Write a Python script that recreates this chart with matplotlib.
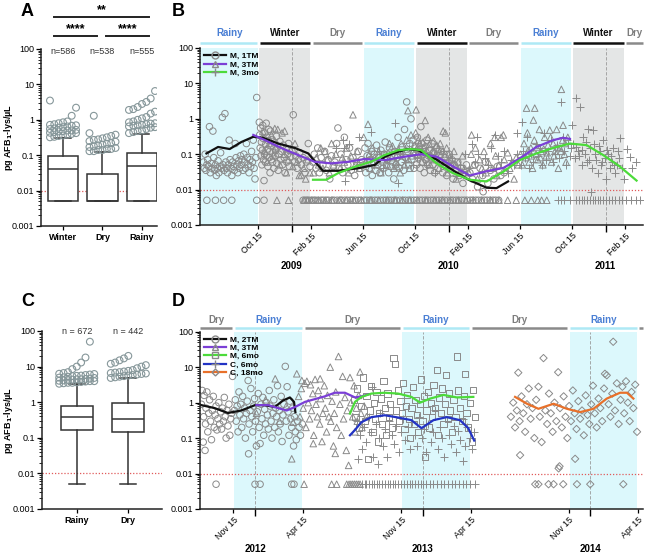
import numpy as np
import matplotlib
matplotlib.use("Agg")
import matplotlib.pyplot as plt
from matplotlib.lines import Line2D
from matplotlib.ticker import FixedLocator, LogLocator, NullFormatter
import matplotlib.transforms as mtransforms

plt.rcParams['font.family'] = ['Liberation Sans', 'DejaVu Sans']

GRAY = '#8a8a8a'
TEAL_GRAY = '#86979a'
CYAN = '#dcf8fc'
WINTER_GRAY = '#e4e6e6'
LOD = 0.005

# ---------------- panel A / C box data ----------------
a_groups = ['Winter', 'Dry', 'Rainy']
a_n = ['n=586', 'n=538', 'n=555']
a_q1 = [0.005, 0.005, 0.005]
a_med = [0.04, 0.005, 0.05]
a_q3 = [0.095, 0.03, 0.115]
a_whi = [0.31, 0.12, 0.40]
a_out_winter = [0.32, 0.33, 0.35, 0.36, 0.38, 0.40, 0.42, 0.43, 0.45, 0.47, 0.48, 0.50, 0.50,
                0.52, 0.55, 0.57, 0.60, 0.62, 0.65, 0.68, 0.70, 0.72, 0.75, 0.80, 0.85, 0.90,
                1.3, 2.2, 3.5]
a_out_dry = [0.13, 0.13, 0.14, 0.14, 0.15, 0.15, 0.16, 0.17, 0.18, 0.19, 0.20, 0.21, 0.22,
             0.24, 0.25, 0.27, 0.28, 0.30, 0.32, 0.35, 0.38, 0.42, 1.3]
a_out_rainy = [0.42, 0.45, 0.48, 0.50, 0.55, 0.60, 0.62, 0.65, 0.68, 0.70, 0.72, 0.75, 0.78,
               0.80, 0.85, 0.90, 1.0, 1.1, 1.2, 1.5, 1.7, 1.9, 2.0, 2.3, 2.8, 3.2, 4.0, 6.5]

c_groups = ['Rainy', 'Dry']
c_n = ['n = 672', 'n = 442']
c_whlo = [0.005, 0.005]
c_q1 = [0.17, 0.15]
c_med = [0.38, 0.34]
c_q3 = [0.80, 0.93]
c_whi = [3.2, 4.7]
c_out_rainy = [3.3, 3.4, 3.5, 3.6, 3.7, 3.8, 3.9, 4.0, 4.1, 4.2, 4.3, 4.4, 4.5, 4.6, 4.8, 5.0,
               5.2, 5.4, 5.6, 5.8, 6.0, 6.3, 6.6, 7.0, 3.5, 3.9, 4.4, 4.9, 5.5, 6.2, 8.5,
               10, 13, 18, 50]
c_out_dry = [4.8, 5.0, 5.2, 5.4, 5.6, 5.8, 6.0, 6.2, 6.4, 6.6, 6.8, 7.0, 7.3, 7.6, 8.0,
             9.0, 10, 11, 12, 13, 15, 17, 20]

# ---------------- panel B (days since 2008-10-15) ----------------
B_REF = '2008-10-15'
b_xlim = (-136, 895)
b_edges = ['2008-10-15', '2009-02-15', '2009-06-15', '2009-10-15', '2010-02-15',
           '2010-06-15', '2010-10-15', '2011-02-15']
b_seasons = ['Rainy', 'Winter', 'Dry', 'Rainy', 'Winter', 'Dry', 'Rainy', 'Winter', 'Dry']
b_ticks = ['2008-10-15', '2009-02-15', '2009-06-15', '2009-10-15', '2010-02-15',
           '2010-06-15', '2010-10-15', '2011-02-15']
b_tick_labels = ['Oct 15', 'Feb 15', 'Jun 15', 'Oct 15', 'Feb 15', 'Jun 15', 'Oct 15', 'Feb 15']
b_years = ['2009-01-01', '2010-01-01', '2011-01-01']
b_year_labels = ['2009', '2010', '2011']

b_circles = [(-128, 0.06), (-126, 0.04), (-124, 0.1), (-122, 0.035), (-120, 0.05), (-118, 0.07),
             (-116, 0.045), (-114, 0.6), (-112, 0.03), (-110, 0.055), (-108, 0.04), (-106, 0.45),
             (-104, 0.08), (-102, 0.035), (-100, 0.05), (-98, 0.025), (-96, 0.04), (-94, 0.065),
             (-92, 0.03), (-90, 0.045), (-88, 0.11), (-86, 0.04), (-84, 1.1), (-82, 0.05),
             (-80, 0.035), (-78, 1.4), (-76, 0.06), (-74, 0.04), (-72, 0.03), (-70, 0.05),
             (-68, 0.25), (-66, 0.07), (-64, 0.04), (-62, 0.025), (-60, 0.06), (-58, 0.045),
             (-56, 0.035), (-54, 0.2), (-52, 0.08), (-50, 0.05), (-48, 0.03), (-46, 0.065),
             (-44, 0.04), (-42, 0.09), (-40, 0.05), (-38, 0.07), (-36, 0.035), (-34, 0.1),
             (-32, 0.06), (-30, 0.04), (-28, 0.2), (-26, 0.08), (-24, 0.05), (-22, 0.03),
             (-20, 0.07), (-18, 0.045), (-16, 0.12), (-14, 0.06), (-12, 0.25), (-10, 0.04),
             (-8, 0.02), (-6, 0.08), (-4, 4.0),
             (2, 0.8), (3, 0.35), (4, 0.15), (5, 0.55), (6, 0.09), (7, 0.22), (8, 0.05), (9, 0.13),
             (10, 0.65), (11, 0.28), (12, 0.07), (13, 0.018), (14, 0.1), (15, 0.4), (16, 0.06),
             (17, 0.19), (18, 0.75), (19, 0.09), (20, 0.3), (21, 0.14), (22, 0.045), (23, 0.24),
             (24, 0.5), (25, 0.08), (26, 0.12), (27, 0.03), (28, 0.45), (29, 0.17), (30, 0.07),
             (32, 0.26), (33, 0.06), (34, 0.11), (36, 0.04), (38, 0.21), (39, 0.09), (40, 0.13),
             (42, 0.32), (43, 0.055), (45, 0.16), (46, 0.035), (48, 0.1), (50, 0.23), (52, 0.07),
             (54, 0.12), (56, 0.05), (58, 0.18), (60, 0.08), (62, 0.03), (64, 0.14), (66, 0.06),
             (68, 0.1), (70, 0.2), (72, 0.045), (75, 0.085), (78, 0.12), (81, 1.3), (84, 0.06),
             (87, 0.09), (90, 0.04), (93, 0.07), (96, 0.11), (100, 0.05), (104, 0.08), (108, 0.03),
             (112, 0.06), (116, 0.2), (120, 0.045),
             (126, 0.06), (130, 0.1), (134, 0.04), (138, 0.15), (142, 0.03), (146, 0.08),
             (150, 0.05), (154, 0.12), (158, 0.035), (162, 0.07), (166, 0.02), (170, 0.09),
             (174, 0.045), (178, 0.06), (182, 0.2), (185, 0.55), (188, 0.04), (192, 0.1),
             (196, 0.03), (200, 0.3), (204, 0.07), (208, 0.05), (212, 0.15), (216, 0.035),
             (220, 0.08), (224, 0.025), (228, 0.06), (232, 0.12), (236, 0.04), (240, 0.07),
             (245, 0.05), (248, 0.15), (250, 0.03), (253, 0.09), (255, 0.2), (258, 0.04),
             (260, 0.07), (263, 0.12), (265, 0.025), (268, 0.06), (270, 0.1), (273, 0.035),
             (275, 0.18), (278, 0.05), (280, 0.08), (283, 0.03), (285, 0.13), (288, 0.06),
             (290, 0.04), (293, 0.1), (295, 0.22), (298, 0.05), (300, 0.07), (303, 0.03),
             (305, 0.15), (308, 0.045), (310, 0.09), (313, 0.06), (315, 0.02), (318, 0.12),
             (320, 0.05), (323, 0.08), (325, 0.3), (328, 0.04), (330, 0.1), (333, 0.06),
             (335, 0.16), (338, 0.035), (340, 0.5), (342, 0.08), (345, 3.0), (347, 0.12),
             (350, 0.05), (352, 0.2), (355, 1.0), (357, 0.07), (360, 0.25), (362, 0.04),
             (366, 0.15), (368, 0.05), (370, 0.3), (372, 0.08), (374, 0.12), (376, 0.04),
             (378, 0.6), (380, 0.2), (382, 0.06), (384, 0.1), (386, 0.03), (388, 0.16),
             (390, 0.07), (392, 0.25), (394, 0.05), (396, 0.09), (398, 0.13), (400, 0.035),
             (402, 0.08), (404, 0.2), (406, 0.05), (408, 0.11), (410, 0.03), (412, 0.07),
             (415, 0.15), (418, 0.04), (420, 0.09), (423, 0.06), (426, 0.12), (429, 0.03),
             (432, 0.05), (435, 0.08), (438, 0.025), (441, 0.06), (444, 0.1), (447, 0.04),
             (450, 0.07), (453, 0.02), (456, 0.05), (460, 0.035), (464, 0.06), (468, 0.025),
             (472, 0.04), (476, 0.015), (480, 0.03), (484, 0.05),
             (492, 0.03), (498, 0.02), (504, 0.05), (510, 0.012), (516, 0.04), (522, 0.025),
             (523, 0.0087), (528, 0.06), (534, 0.015), (540, 0.035), (548, 0.02), (556, 0.045),
             (564, 0.025), (572, 0.03)]

b_triangles = [(10, 0.45), (15, 0.12), (20, 0.06), (25, 0.2), (30, 0.35), (35, 0.09), (38, 0.53),
               (40, 0.15), (45, 0.5), (50, 0.05), (55, 0.4), (60, 0.1), (61, 0.45), (65, 0.03),
               (70, 0.07), (75, 0.13), (80, 0.045), (85, 0.2), (90, 0.06), (95, 0.025),
               (100, 0.026), (105, 0.04), (110, 0.02), (115, 0.07), (120, 0.03),
               (128, 0.03), (135, 0.08), (140, 0.05), (145, 0.15), (150, 0.04), (155, 0.12),
               (160, 0.07), (165, 0.03), (170, 0.2), (175, 0.05), (180, 0.1), (190, 0.04),
               (195, 0.08), (200, 0.06), (205, 0.15), (210, 0.03), (215, 0.09), (220, 1.3),
               (225, 0.05), (230, 0.12), (235, 0.04),
               (245, 0.3), (250, 0.06), (255, 0.7), (258, 0.1), (260, 0.04), (265, 0.15),
               (270, 0.08), (275, 0.05), (280, 0.12), (285, 0.03), (290, 0.07), (295, 0.1),
               (300, 0.05), (305, 0.2), (310, 0.08), (315, 0.04), (320, 0.06), (325, 0.13),
               (330, 0.03), (335, 0.09), (340, 0.05), (345, 0.25), (348, 1.7), (350, 0.07),
               (355, 0.35), (360, 0.12), (302, 0.11), (312, 0.17), (322, 0.045), (332, 0.2),
               (342, 0.14), (352, 0.04), (358, 0.09), (363, 0.18),
               (366, 0.4), (367, 1.8), (370, 0.1), (375, 0.2), (380, 0.06), (385, 0.15),
               (388, 0.9), (390, 0.08), (395, 0.3), (400, 0.05), (405, 0.12), (410, 0.07),
               (415, 0.18), (420, 0.04), (425, 0.1), (430, 0.45), (432, 0.06), (435, 0.4),
               (440, 0.03), (445, 0.08), (450, 0.05), (455, 0.12), (460, 0.02), (465, 0.06),
               (470, 0.035), (475, 0.09), (480, 0.04), (485, 0.025), (368, 0.14), (372, 0.25),
               (377, 0.11), (383, 0.22), (392, 0.13), (398, 0.19), (403, 0.09), (408, 0.24),
               (413, 0.1), (418, 0.14), (423, 0.2), (428, 0.12), (438, 0.15), (443, 0.1),
               (448, 0.07), (458, 0.05),
               (490, 0.03), (495, 0.1), (496, 0.35), (500, 0.05), (505, 0.15), (510, 0.02),
               (515, 0.07), (520, 0.04), (525, 0.12), (530, 0.03), (535, 0.06), (540, 0.2),
               (545, 0.04), (550, 0.3), (552, 0.09), (555, 0.025), (560, 0.05), (565, 0.3),
               (570, 0.35), (572, 0.07), (575, 0.035), (580, 0.11), (585, 0.04), (590, 0.06),
               (595, 0.02), (600, 0.08), (605, 0.05),
               (610, 0.1), (614, 0.05), (618, 0.2), (622, 0.08), (624, 2.0), (626, 0.4),
               (630, 0.06), (634, 0.15), (638, 0.04), (640, 0.92), (642, 0.25), (643, 2.0),
               (646, 0.1), (650, 0.07), (654, 0.5), (658, 0.12), (662, 0.05), (666, 0.3),
               (670, 0.09), (674, 0.18), (678, 0.48), (682, 0.06), (686, 0.2), (690, 0.12),
               (694, 0.5), (698, 0.04), (702, 0.15), (705, 6.8), (708, 0.25), (709, 0.66),
               (712, 0.1), (716, 0.06), (720, 0.3), (628, 0.13), (636, 0.09), (648, 0.16),
               (656, 0.08), (664, 0.14), (672, 0.11), (680, 0.3), (688, 0.09), (696, 0.16),
               (704, 0.12), (714, 0.2)]

b_plus = [(180, 0.15), (197, 0.25), (199, 0.15), (201, 0.017), (210, 0.2), (230, 0.06),
          (235, 0.3), (250, 0.08), (263, 0.43), (270, 0.05), (280, 0.12), (290, 0.04),
          (300, 0.07), (317, 0.74), (325, 0.015), (330, 0.1), (340, 0.06), (350, 0.15),
          (360, 0.05), (370, 0.08), (380, 0.15), (390, 0.05), (400, 0.1), (410, 0.03),
          (420, 0.06), (430, 0.12), (440, 0.04), (450, 0.08), (460, 0.025), (470, 0.05),
          (480, 0.1), (490, 0.04), (498, 0.2), (505, 0.06), (508, 0.31), (512, 0.1),
          (520, 0.03), (528, 0.08), (535, 0.05), (542, 0.15), (550, 0.35), (553, 0.04),
          (558, 0.09), (565, 0.06), (572, 0.12), (580, 0.03), (588, 0.07), (595, 0.05),
          (601, 0.39), (602, 0.1), (610, 0.05), (613, 0.82), (615, 0.12), (620, 0.08),
          (625, 0.3), (630, 0.04), (635, 0.1), (640, 0.06), (645, 0.2), (650, 0.09),
          (655, 0.15), (660, 0.05), (665, 0.4), (670, 0.07), (675, 0.12), (680, 0.25),
          (685, 0.06), (690, 0.1), (695, 0.18), (700, 0.08), (705, 3.0), (708, 0.3),
          (712, 0.12), (716, 0.05), (720, 0.2), (725, 0.09), (728, 0.15), (729, 0.66),
          (732, 0.2), (736, 0.08), (740, 3.8), (744, 0.12), (748, 2.2), (752, 0.05),
          (756, 0.3), (760, 0.1), (764, 0.06), (768, 0.5), (772, 0.15), (775, 0.0087),
          (776, 0.04), (779, 0.48), (782, 0.2), (786, 0.07), (790, 0.03), (794, 0.12),
          (798, 0.05), (802, 0.25), (806, 0.08), (810, 0.02), (814, 0.1), (818, 0.04),
          (822, 0.06), (826, 0.15), (830, 0.03), (834, 0.05), (838, 0.08), (841, 0.28),
          (846, 0.04), (850, 0.02), (857, 0.14), (864, 0.085), (870, 0.04), (878, 0.06),
          (738, 0.16), (746, 0.09), (754, 0.13), (762, 0.22), (770, 0.07), (784, 0.1),
          (792, 0.17), (800, 0.06), (812, 0.13), (820, 0.09), (828, 0.05), (836, 0.12)]

b_lod_circles = [-120, -100, -81, -62, -4, 13, 104, 109, 113, 118, 124, 129, 133, 139, 146,
                 151, 158, 163, 171, 176, 183, 190, 194, 201, 207, 214, 219, 226, 233, 238,
                 246, 252, 259, 264, 271, 277, 284, 291, 297, 303, 309, 316, 321, 329, 336,
                 342, 349, 355, 362, 368, 375, 381, 388, 394, 401, 407, 414, 420, 427, 433,
                 440, 447, 453, 460, 466, 473, 479, 486, 493, 499, 506, 512, 519, 526, 532,
                 539, 546, 552, 559]
b_lod_triangles = [43, 70, 106, 115, 124, 140, 155, 171, 188, 205, 222, 240, 262, 280, 300,
                   318, 335, 352, 370, 390, 410, 428, 446, 465, 483, 500, 520, 540, 560, 580,
                   600, 620, 635, 650, 659, 671]
b_lod_plus = [697, 705, 712, 725, 738, 746, 752, 758, 765, 772, 778, 784, 790, 796, 802, 808,
              815, 822, 830, 838, 846, 856, 866, 878, 888]

b_line_1tm_day = [-121, -94, -67, -40, -12, 11, 46, 85, 116, 135, 150, 185, 232, 271, 294, 317,
                  348, 371, 415, 453, 489, 531, 554, 581]
b_line_1tm_val = [0.105, 0.16, 0.14, 0.22, 0.31, 0.29, 0.2, 0.15, 0.105, 0.055, 0.034, 0.034,
                  0.04, 0.05, 0.085, 0.11, 0.14, 0.13, 0.07, 0.035, 0.019, 0.0113, 0.011, 0.017]
b_line_3tm_day = [-12, 15, 53, 92, 131, 170, 209, 247, 294, 340, 379, 415, 453, 492, 531, 570,
                  608, 647, 686, 709, 725]
b_line_3tm_val = [0.35, 0.25, 0.15, 0.095, 0.061, 0.055, 0.061, 0.073, 0.068, 0.085, 0.1,
                  0.085, 0.045, 0.025, 0.033, 0.041, 0.076, 0.16, 0.25, 0.29, 0.27]
b_line_3mo_day = [127, 158, 185, 224, 263, 294, 325, 356, 379, 415, 453, 492, 531, 570, 608,
                  647, 686, 725, 764, 802, 841, 880]
b_line_3mo_val = [0.019, 0.019, 0.029, 0.044, 0.062, 0.095, 0.13, 0.14, 0.13, 0.055, 0.029,
                  0.019, 0.017, 0.032, 0.068, 0.105, 0.15, 0.2, 0.18, 0.095, 0.045, 0.018]

# ---------------- panel D (days since 2011-11-15) ----------------
D_REF = '2011-11-15'
d_xlim = (-73, 893)
d_edges = ['2011-11-15', '2012-04-15', '2012-11-15', '2013-04-15', '2013-11-15', '2014-04-15']
d_seasons = ['Dry', 'Rainy', 'Dry', 'Rainy', 'Dry', 'Rainy', 'Dry']
d_ticks = ['2011-11-15', '2012-04-15', '2012-11-15', '2013-04-15', '2013-11-15', '2014-04-15']
d_tick_labels = ['Nov 15', 'Apr 15', 'Nov 15', 'Apr 15', 'Nov 15', 'Apr 15']
d_years = ['2012-01-01', '2013-01-01', '2014-01-01']
d_year_labels = ['2012', '2013', '2014']

d_circles = [(-70, 0.9), (-68, 2.2), (-66, 0.077), (-65, 0.4), (-64, 1.6), (-62, 0.045),
             (-61, 0.25), (-60, 0.7), (-58, 2.0), (-56, 0.15), (-54, 0.5), (-52, 1.2),
             (-50, 0.3), (-48, 0.09), (-46, 0.6), (-44, 1.5), (-42, 0.2), (-40, 0.45),
             (-38, 0.8), (-36, 0.17), (-34, 0.35), (-32, 1.0), (-30, 0.25), (-28, 0.55),
             (-26, 0.18), (-24, 0.7), (-22, 0.3), (-20, 1.4), (-18, 0.4), (-16, 0.1),
             (-14, 0.6), (-12, 0.22), (-10, 0.9), (-8, 0.12), (-6, 0.35), (-4, 0.5), (-2, 5.5),
             (2, 0.6), (4, 1.2), (6, 0.3), (8, 0.8), (10, 0.15), (12, 2.0), (14, 0.45), (16, 0.9),
             (18, 0.2), (20, 1.5), (22, 0.35), (24, 0.7), (26, 0.1), (28, 0.5), (30, 1.1),
             (32, 4.2), (33, 0.036), (34, 0.25), (36, 0.6), (38, 2.5), (40, 0.4), (42, 0.15),
             (44, 0.8), (46, 1.3), (48, 0.3), (50, 0.06), (52, 0.55), (54, 1.8), (56, 0.2),
             (58, 0.07), (60, 0.9), (62, 0.35), (64, 1.4), (66, 0.12), (68, 0.65), (70, 0.25),
             (72, 1.0), (74, 0.45), (76, 0.18), (78, 2.2), (80, 0.8), (82, 0.3), (84, 0.1),
             (86, 0.5), (88, 1.2), (90, 0.2), (92, 0.7), (94, 0.4), (96, 3.0), (98, 0.15),
             (100, 0.6), (102, 0.25), (104, 1.5), (106, 0.08), (108, 0.45), (110, 0.9),
             (113, 10.5), (115, 0.3), (117, 2.8), (119, 0.55), (121, 0.12), (123, 1.1),
             (125, 0.35), (127, 0.2), (129, 0.7), (131, 0.06), (133, 0.4), (135, 0.15),
             (137, 0.09), (140, 0.3), (143, 0.2), (146, 0.12), (150, 0.25)]

d_triangles = [(50, 0.5), (70, 1.2), (91, 4.7), (100, 0.3), (115, 0.8), (127, 0.026),
               (130, 0.28), (138, 6.5), (142, 1.5), (145, 0.4), (148, 2.5), (149, 4.2),
               (152, 0.7), (155, 3.5), (158, 0.2), (160, 4.0), (163, 1.0), (166, 0.35),
               (168, 3.2), (170, 0.6), (173, 1.8), (174, 0.07), (175, 0.12), (178, 4.5),
               (180, 0.9), (183, 0.4), (185, 2.2), (188, 0.25), (189, 4.7), (190, 1.3),
               (193, 0.08), (195, 0.5), (198, 3.0), (200, 0.7), (203, 0.15), (205, 1.6),
               (208, 0.4), (211, 10), (212, 0.3), (215, 1.1), (218, 0.06), (220, 0.5),
               (222, 0.037), (223, 2.0), (225, 0.2), (229, 20), (232, 0.9), (235, 0.12),
               (238, 5.5), (240, 0.35), (243, 1.4), (246, 0.045), (248, 0.6), (251, 0.017),
               (254, 5.1), (256, 1.0), (260, 0.4), (263, 3.0), (265, 0.15), (268, 0.7),
               (270, 0.3), (273, 1.6), (276, 7.3), (278, 0.5), (280, 0.2), (285, 0.8),
               (290, 0.4)]

d_squares = [(262, 1.2), (266, 0.4), (270, 2.5), (274, 0.2), (278, 0.8), (283, 5.1),
             (286, 0.3), (290, 1.5), (294, 0.026), (297, 0.6), (300, 3.0), (303, 0.15),
             (306, 1.0), (309, 0.35), (312, 2.0), (315, 0.08), (318, 0.5), (321, 1.3),
             (324, 0.25), (327, 4.0), (330, 0.7), (333, 0.12), (336, 1.8), (339, 0.4),
             (342, 0.9), (345, 0.2), (349, 18), (352, 12), (355, 0.6), (358, 2.2), (361, 0.3),
             (364, 1.1), (367, 0.5), (370, 3.5), (373, 0.18), (376, 0.8), (379, 1.6),
             (382, 0.35), (385, 0.1), (388, 0.7), (391, 2.8), (394, 0.25), (397, 1.2),
             (400, 0.45), (403, 0.15), (406, 0.9), (409, 4.5), (412, 0.3), (415, 1.5),
             (418, 0.03), (421, 0.6), (424, 2.0), (427, 0.2), (430, 1.0), (433, 0.4),
             (436, 3.2), (440, 0.7), (443, 8.2), (446, 0.12), (449, 1.4), (452, 0.5),
             (455, 2.5), (458, 0.25), (461, 0.9), (464, 6.0), (467, 0.35), (470, 1.8),
             (473, 0.6), (476, 0.15), (480, 1.2), (484, 0.4), (487, 20), (490, 2.2),
             (494, 0.7), (498, 0.3), (502, 1.5), (505, 6.5), (508, 0.5), (512, 0.2),
             (516, 1.0), (520, 0.08), (523, 2.3), (527, 0.4)]

d_plus = [(270, 0.3), (272, 0.026), (275, 0.12), (280, 0.05), (285, 0.2), (290, 0.08),
          (295, 0.4), (300, 0.15), (301, 2.7), (305, 0.03), (310, 0.25), (315, 0.018),
          (318, 0.1), (320, 0.5), (325, 0.06), (330, 0.18), (335, 0.03), (340, 0.3),
          (345, 0.12), (350, 0.07), (355, 0.22), (360, 0.04), (365, 0.15), (370, 0.35),
          (375, 0.09), (380, 0.2), (385, 0.05), (390, 0.28), (395, 0.12), (400, 0.06),
          (405, 0.4), (410, 0.1), (415, 0.18), (420, 0.04), (425, 0.25), (430, 0.08),
          (435, 0.15), (440, 0.6), (445, 0.05), (450, 0.2), (455, 0.1), (460, 0.03),
          (465, 0.3), (470, 0.12), (475, 0.07), (480, 0.22), (485, 0.04), (490, 0.16),
          (495, 0.09), (500, 0.35), (501, 0.023), (505, 0.06), (510, 0.2), (515, 0.1),
          (520, 0.05), (525, 0.15)]

d_diamonds = [(605, 0.4), (610, 1.0), (614, 0.2), (618, 0.6), (621, 7.0), (624, 0.3),
              (625, 0.033), (628, 1.5), (632, 0.5), (636, 0.15), (640, 0.9), (644, 2.5),
              (648, 0.35), (652, 0.7), (656, 0.1), (660, 1.2), (665, 2.8), (668, 0.4),
              (672, 0.077), (676, 18), (680, 0.6), (684, 0.25), (688, 1.8), (692, 0.5),
              (696, 0.15), (700, 1.0), (704, 0.3), (708, 7.2), (709, 0.014), (711, 0.016),
              (712, 0.7), (716, 0.2), (720, 1.5), (724, 0.4), (728, 0.1), (732, 0.8),
              (736, 0.3), (740, 2.2), (744, 0.5), (745, 0.026), (748, 0.18), (752, 1.1),
              (756, 0.35), (760, 0.6), (764, 0.12), (768, 1.6), (772, 0.45), (776, 0.25),
              (780, 0.9), (784, 3.0), (788, 0.5), (792, 0.2), (796, 1.3), (800, 0.7),
              (804, 0.3), (808, 2.5), (810, 6.5), (814, 5.9), (818, 0.9), (822, 0.4),
              (826, 1.8), (828, 52), (832, 0.6), (836, 3.5), (840, 0.25), (844, 1.2),
              (848, 2.8), (852, 0.5), (856, 4.0), (860, 1.0), (864, 0.3), (868, 2.0),
              (872, 0.7), (876, 3.2), (880, 0.15)]

d_lod_circles = [-38, 47, 58, 127, 132]
d_lod_triangles = [154, 214, 225, 247, 252, 256, 260, 264, 268, 272, 276]
d_lod_plus = [280, 286, 290, 296, 302, 307, 312, 318, 324, 330, 336, 341, 347, 352, 358, 366,
              372, 378, 384, 390, 396, 402, 408, 414, 420, 428, 436, 444, 452, 460, 468, 476,
              484, 492, 500, 508, 516, 527]
d_lod_diamonds = [658, 665, 687, 698, 719, 749, 778, 850]

d_line_2tm_day = [-70, -41, -12, 17, 47, 68, 90, 108, 123, 132, 135]
d_line_2tm_val = [0.85, 0.7, 0.51, 0.6, 0.85, 0.85, 0.75, 1.15, 1.4, 1.05, 0.54]
d_line_3tm_day = [50, 76, 97, 116, 134, 156, 177, 199, 221, 243, 265, 279, 294]
d_line_3tm_val = [0.85, 0.85, 0.7, 0.6, 0.75, 1.05, 1.25, 1.5, 1.9, 1.9, 1.4, 1.5, 1.7]
d_line_m6_day = [254, 265, 279, 301, 330, 359, 388, 407, 429, 458, 487, 523]
d_line_m6_val = [0.49, 1.05, 1.45, 1.8, 1.9, 1.8, 1.45, 1.0, 1.3, 1.65, 1.4, 1.45]
d_line_c6_day = [254, 265, 279, 301, 330, 359, 388, 410, 436, 465, 494, 512, 525]
d_line_c6_val = [0.12, 0.17, 0.28, 0.39, 0.44, 0.38, 0.32, 0.19, 0.32, 0.39, 0.32, 0.19, 0.085]
d_line_c18_day = [614, 640, 665, 698, 727, 756, 785, 814, 843, 858, 872]
d_line_c18_val = [1.45, 0.93, 0.67, 0.93, 0.67, 0.54, 0.67, 1.3, 1.9, 1.9, 1.3]

Y_LABEL = 'pg AFB$_\\mathbf{1}$-lys/µL'


def day(ref, date):
    return int((np.datetime64(date) - np.datetime64(ref)).astype(int))


def split(pairs):
    arr = np.array(pairs, dtype=float)
    return arr[:, 0], arr[:, 1]


def style_log_y(ax):
    ax.set_yscale('log')
    ax.set_ylim(0.001, 100)
    ax.yaxis.set_major_locator(FixedLocator([0.001, 0.01, 0.1, 1, 10, 100]))
    ax.set_yticklabels(['0.001', '0.01', '0.1', '1', '10', '100'])
    ax.yaxis.set_minor_locator(LogLocator(base=10, subs=np.arange(2, 10)))
    ax.yaxis.set_minor_formatter(NullFormatter())
    ax.tick_params(axis='y', which='major', length=3.5, width=0.9, labelsize=6.5, pad=1.5)
    ax.tick_params(axis='y', which='minor', length=2, width=0.6)
    for s in ['top', 'right']:
        ax.spines[s].set_visible(False)
    for s in ['left', 'bottom']:
        ax.spines[s].set_linewidth(1.1)
        ax.spines[s].set_color('#222222')
    ax.axhline(0.01, color='#e05a5a', lw=0.9, ls=(0, (1, 1.5)), zorder=1)


def jitter(values, step, ncol):
    vals = np.sort(np.array(values, dtype=float))
    offs = ((np.arange(len(vals)) % ncol) - (ncol - 1) / 2.0) * step
    return vals, offs


def draw_box_panel(ax, groups, q1, med, q3, whlo, whi, outliers, ns, n_y, width, step, ncol):
    stats = []
    for i in range(len(groups)):
        stats.append({'q1': q1[i], 'med': med[i], 'q3': q3[i], 'whislo': whlo[i],
                      'whishi': whi[i], 'fliers': []})
    pos = np.arange(1, len(groups) + 1)
    ax.bxp(stats, positions=pos, widths=width, capwidths=width * 0.5, showfliers=False,
           patch_artist=True,
           boxprops=dict(facecolor='white', edgecolor='#333333', lw=1.1),
           medianprops=dict(color='#333333', lw=1.1),
           whiskerprops=dict(color='#333333', lw=1.1),
           capprops=dict(color='#333333', lw=1.1))
    for i, vals in enumerate(outliers):
        v, o = jitter(vals, step, ncol)
        ax.scatter(pos[i] + o, v, s=24, facecolors='none', edgecolors=TEAL_GRAY, lw=0.8,
                   zorder=3)
        ax.text(pos[i], n_y, ns[i], ha='center', va='center', fontsize=6.5, color='#333333')
    ax.set_xticks(pos)
    ax.set_xticklabels(groups, fontsize=6.5, fontweight='bold')
    ax.tick_params(axis='x', length=3, width=0.9, pad=2)


def draw_time_panel(ax, ref, xlim, edges, seasons, ticks, tick_labels, years, year_labels,
                    bar_y, lab_y, year_y):
    edge_days = [xlim[0]] + [day(ref, e) for e in edges] + [xlim[1]]
    jan_days = [day(ref, y) for y in years]
    blended = mtransforms.blended_transform_factory(ax.transData, ax.transAxes)
    label_colors = {'Rainy': '#4a7fd4', 'Winter': '#111111', 'Dry': '#7d7d7d'}
    bar_colors = {'Rainy': '#aee9f5', 'Winter': '#111111', 'Dry': '#8a8a8a'}
    for i, season in enumerate(seasons):
        lo, hi = edge_days[i], edge_days[i + 1]
        lo_band = lo if i == 0 else lo + 2
        hi_band = hi if i == len(seasons) - 1 else hi - 2
        if season == 'Rainy':
            ax.axvspan(lo_band, hi_band, color=CYAN, lw=0, zorder=0)
        elif season == 'Winter':
            ax.axvspan(lo_band, hi_band, color=WINTER_GRAY, lw=0, zorder=0)
        lo_bar = lo if i == 0 else lo + 3
        hi_bar = hi if i == len(seasons) - 1 else hi - 3
        ax.plot([lo_bar, hi_bar], [bar_y, bar_y], transform=blended, clip_on=False,
                color=bar_colors[season], lw=1.8, solid_capstyle='butt')
        if hi - lo > 25:
            ax.text((lo + hi) / 2.0, lab_y, season, transform=blended, ha='center',
                    va='center', fontsize=7, fontweight='bold', color=label_colors[season])
    for j in jan_days:
        ax.axvline(j, color='#9a9a9a', lw=0.6, ls=(0, (4, 2)), zorder=0.5)
    ax.set_xlim(*xlim)
    ax.set_xticks([day(ref, t) for t in ticks])
    ax.set_xticklabels(tick_labels, rotation=45, ha='right', rotation_mode='anchor',
                       fontsize=6.3)
    ax.set_xticks(jan_days, minor=True)
    ax.tick_params(axis='x', which='major', length=3, width=0.9, pad=1.5)
    ax.tick_params(axis='x', which='minor', length=5, width=1.0)
    for j, lab in zip(jan_days, year_labels):
        ax.text(j, year_y, lab, transform=blended, ha='center', va='center', fontsize=7,
                fontweight='bold')


def scat(ax, xs, ys, marker, size, lw=0.7):
    if marker in ['+']:
        ax.scatter(xs, ys, s=size, marker=marker, c=GRAY, lw=lw, zorder=2)
    else:
        ax.scatter(xs, ys, s=size, marker=marker, facecolors='none', edgecolors=GRAY,
                   lw=lw, zorder=2)


fig = plt.figure(figsize=(6.47, 5.53), dpi=100)

# ---------------- A ----------------
axA = fig.add_axes([41 / 647, 327 / 553, 116 / 647, 177 / 553])
style_log_y(axA)
draw_box_panel(axA, a_groups, a_q1, a_med, a_q3, a_q1, a_whi,
               [a_out_winter, a_out_dry, a_out_rainy], a_n, 85, 0.76, 0.11, 7)
axA.set_xlim(0.443, 3.38)
bl = mtransforms.blended_transform_factory(axA.transData, axA.transAxes)
axA.plot([0.77, 3.18], [1.18, 1.18], transform=bl, clip_on=False, color='#222222', lw=1.4)
axA.plot([0.77, 1.86], [1.075, 1.075], transform=bl, clip_on=False, color='#222222', lw=1.4)
axA.plot([2.09, 3.18], [1.075, 1.075], transform=bl, clip_on=False, color='#222222', lw=1.4)
axA.text(1.975, 1.185, '**', transform=bl, ha='center', va='bottom', fontsize=9,
         fontweight='bold')
axA.text(1.315, 1.08, '****', transform=bl, ha='center', va='bottom', fontsize=9,
         fontweight='bold')
axA.text(2.635, 1.08, '****', transform=bl, ha='center', va='bottom', fontsize=9,
         fontweight='bold')
fig.text(9 / 647, 1 - 137 / 553, Y_LABEL, rotation=90, ha='center', va='center',
         fontsize=6.5, fontweight='bold')

# ---------------- C ----------------
axC = fig.add_axes([42 / 647, 44 / 553, 120 / 647, 178 / 553])
style_log_y(axC)
draw_box_panel(axC, c_groups, c_q1, c_med, c_q3, c_whlo, c_whi,
               [c_out_rainy, c_out_dry], c_n, 100, 0.62, 0.085, 9)
axC.set_xlim(0.327, 2.653)
fig.text(9 / 647, 1 - 420 / 553, Y_LABEL, rotation=90, ha='center', va='center',
         fontsize=6.5, fontweight='bold')

# ---------------- B ----------------
axB = fig.add_axes([200 / 647, 328 / 553, 443 / 647, 177 / 553])
style_log_y(axB)
draw_time_panel(axB, B_REF, b_xlim, b_edges, b_seasons, b_ticks, b_tick_labels, b_years,
                b_year_labels, 1.028, 1.085, -0.232)
x, y = split(b_circles)
scat(axB, x, y, 'o', 22)
x, y = split(b_triangles)
scat(axB, x, y, '^', 22)
x, y = split(b_plus)
scat(axB, x, y, '+', 26)
scat(axB, b_lod_circles, [LOD] * len(b_lod_circles), 'o', 22)
scat(axB, b_lod_triangles, [LOD] * len(b_lod_triangles), '^', 22)
scat(axB, b_lod_plus, [LOD] * len(b_lod_plus), '+', 26)
axB.plot(b_line_1tm_day, b_line_1tm_val, color='#111111', lw=1.6, zorder=4)
axB.plot(b_line_3tm_day, b_line_3tm_val, color='#7b3fd6', lw=1.6, zorder=4)
axB.plot(b_line_3mo_day, b_line_3mo_val, color='#4cdb3a', lw=1.6, zorder=4)
hB = [Line2D([], [], color='#111111', lw=1.6, marker='o', mfc='none', mec=GRAY, ms=5),
      Line2D([], [], color='#7b3fd6', lw=1.6, marker='^', mfc='none', mec=GRAY, ms=5),
      Line2D([], [], color='#4cdb3a', lw=1.6, marker='+', mec=GRAY, ms=6)]
axB.legend(hB, ['M, 1TM', 'M, 3TM', 'M, 3mo'], loc='upper left', frameon=False,
           handlelength=2.6, labelspacing=0.1, borderaxespad=0.3,
           handletextpad=0.5, borderpad=0.2, prop={'weight': 'bold', 'size': 6})

# ---------------- D ----------------
axD = fig.add_axes([200 / 647, 44 / 553, 443 / 647, 177.3 / 553])
style_log_y(axD)
draw_time_panel(axD, D_REF, d_xlim, d_edges, d_seasons, d_ticks, d_tick_labels, d_years,
                d_year_labels, 1.019, 1.068, -0.226)
x, y = split(d_circles)
scat(axD, x, y, 'o', 22)
x, y = split(d_triangles)
scat(axD, x, y, '^', 22)
x, y = split(d_squares)
scat(axD, x, y, 's', 20)
x, y = split(d_plus)
scat(axD, x, y, '+', 26)
x, y = split(d_diamonds)
scat(axD, x, y, 'D', 14)
scat(axD, d_lod_circles, [LOD] * len(d_lod_circles), 'o', 22)
scat(axD, d_lod_triangles, [LOD] * len(d_lod_triangles), '^', 22)
scat(axD, d_lod_plus, [LOD] * len(d_lod_plus), '+', 26)
scat(axD, d_lod_diamonds, [LOD] * len(d_lod_diamonds), 'D', 14)
axD.plot(d_line_2tm_day, d_line_2tm_val, color='#111111', lw=1.6, zorder=4)
axD.plot(d_line_3tm_day, d_line_3tm_val, color='#7b3fd6', lw=1.6, zorder=4)
axD.plot(d_line_m6_day, d_line_m6_val, color='#4cdb3a', lw=1.6, zorder=4)
axD.plot(d_line_c6_day, d_line_c6_val, color='#2233c4', lw=1.6, zorder=4)
axD.plot(d_line_c18_day, d_line_c18_val, color='#e8702a', lw=1.6, zorder=4)
hD = [Line2D([], [], color='#111111', lw=1.6, marker='o', mfc='none', mec=GRAY, ms=5),
      Line2D([], [], color='#7b3fd6', lw=1.6, marker='^', mfc='none', mec=GRAY, ms=5),
      Line2D([], [], color='#4cdb3a', lw=1.6, marker='s', mfc='none', mec=GRAY, ms=4.5),
      Line2D([], [], color='#2233c4', lw=1.6, marker='+', mec=GRAY, ms=6),
      Line2D([], [], color='#e8702a', lw=1.6, marker='D', mfc='none', mec=GRAY, ms=3.5)]
axD.legend(hD, ['M, 2TM', 'M, 3TM', 'M, 6mo', 'C, 6mo', 'C, 18mo'], loc='upper left',
           frameon=False, handlelength=2.6, labelspacing=0.05, borderaxespad=0.3,
           handletextpad=0.5, borderpad=0.2, prop={'weight': 'bold', 'size': 6})

# panel letters
for lab, (px, py) in zip(['A', 'B', 'C', 'D'], [(21, 11), (172, 11), (21, 302), (172, 302)]):
    fig.text(px / 647, 1 - py / 553, lab, fontsize=13, fontweight='bold', ha='left',
             va='center')

fig.savefig('out.png', dpi=100)
